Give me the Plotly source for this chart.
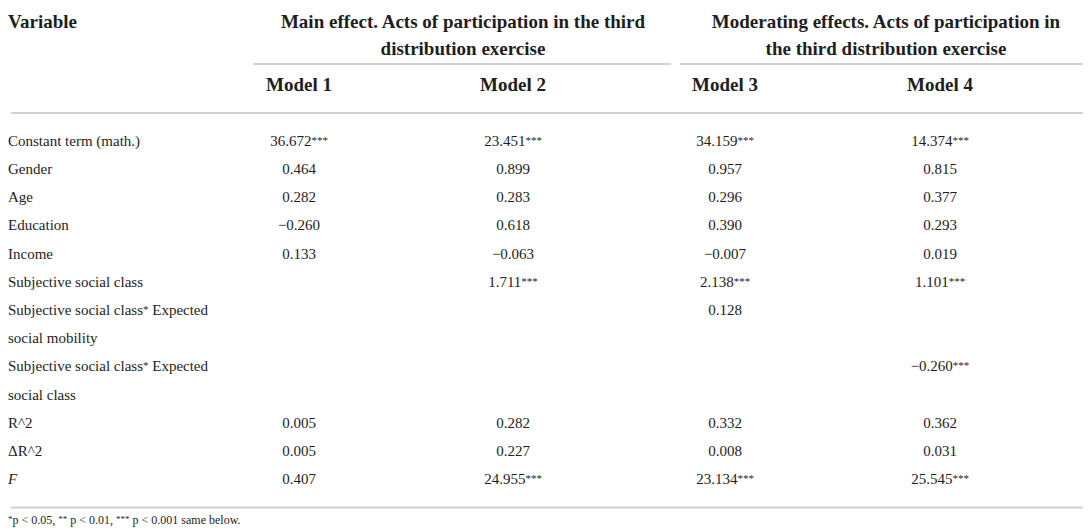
import plotly.graph_objects as go

# table content
variables = [
    "Constant term (math.)",
    "Gender",
    "Age",
    "Education",
    "Income",
    "Subjective social class",
    "Subjective social class* Expected<br>social mobility",
    "Subjective social class* Expected<br>social class",
    "R^2",
    "ΔR^2",
    "<i>F</i>",
]
model1 = ["36.672***", "0.464", "0.282", "−0.260", "0.133", "", "", "", "0.005", "0.005", "0.407"]
model2 = ["23.451***", "0.899", "0.283", "0.618", "−0.063", "1.711***", "", "", "0.282", "0.227", "24.955***"]
model3 = ["34.159***", "0.957", "0.296", "0.390", "−0.007", "2.138***", "0.128", "", "0.332", "0.008", "23.134***"]
model4 = ["14.374***", "0.815", "0.377", "0.293", "0.019", "1.101***", "", "−0.260***", "0.362", "0.031", "25.545***"]
model_names = ["Model 1", "Model 2", "Model 3", "Model 4"]
group_titles = [
    ["Main effect. Acts of participation in the third", "distribution exercise"],
    ["Moderating effects. Acts of participation in", "the third distribution exercise"],
]
footnote = "*p < 0.05, ** p < 0.01, *** p < 0.001 same below."

FONT = "Liberation Serif"
INK = "#1e1e1e"
RULE = "#d2d2d2"
W, H = 1091, 528
col_x = [291, 505, 717, 932]
group_x = [455, 878]
first_row_y = 134
line_h = 28.2


def small_stars(s, px=11, shift=2):
    # asterisks are set smaller and slightly raised, as in the journal layout
    tag = f'<span style="font-size:{px}px;baseline-shift:{shift}px">'
    out, run = "", ""
    for ch in s + "\0":
        if ch == "*":
            run += ch
            continue
        if run:
            out += tag + run + "</span>"
            run = ""
        if ch != "\0":
            out += ch
    return out


def text_trace(xs, ys, texts, size, pos="middle center"):
    return go.Scatter(
        x=xs, y=ys, text=texts, mode="text", textposition=pos,
        textfont=dict(family=FONT, size=size, color=INK),
        hoverinfo="skip", showlegend=False,
    )


# expand multi-line labels into individual text lines
label_txt, label_y, row_y = [], [], []
line = 0
for v in variables:
    parts = v.split("<br>")
    row_y.append(first_row_y + line * line_h)
    for p in parts:
        label_txt.append(small_stars(p))
        label_y.append(first_row_y + line * line_h)
        line += 1
last_line_y = first_row_y + (line - 1) * line_h

fig = go.Figure()

fig.add_trace(text_trace([0] * len(label_txt), label_y, label_txt, 15, "middle right"))

for cx, vals in zip(col_x, [model1, model2, model3, model4]):
    fig.add_trace(text_trace([cx] * len(vals), row_y, [small_stars(v) for v in vals], 15))

# header rows
fig.add_trace(text_trace([0], [15], ["<b>Variable</b>"], 19, "middle right"))
gx, gy, gt = [], [], []
for x0, lines in zip(group_x, group_titles):
    for k, t in enumerate(lines):
        gx.append(x0)
        gy.append(15 + k * 27)
        gt.append("<b>" + t + "</b>")
fig.add_trace(text_trace(gx, gy, gt, 19))
fig.add_trace(text_trace(col_x, [78] * 4, ["<b>" + m + "</b>" for m in model_names], 19))

fig.add_trace(text_trace([0], [513], [small_stars(footnote, 9, 2)], 12, "middle right"))

# horizontal rules
rules = [
    (245, 663, 56),
    (672, 1086, 56),
    (3, 1087, 105),
    (3, 1087, last_line_y + 27),
]
for x0, x1, y0 in rules:
    fig.add_shape(type="line", xref="x", yref="y", x0=x0, x1=x1, y0=y0, y1=y0,
                  line=dict(color=RULE, width=2), layer="below")

fig.update_layout(
    width=W, height=H,
    margin=dict(l=0, r=0, t=0, b=0),
    paper_bgcolor="white", plot_bgcolor="white",
    xaxis=dict(range=[0, W], visible=False, fixedrange=True),
    yaxis=dict(range=[H, 0], visible=False, fixedrange=True),
)

fig.write_html("out.html")
